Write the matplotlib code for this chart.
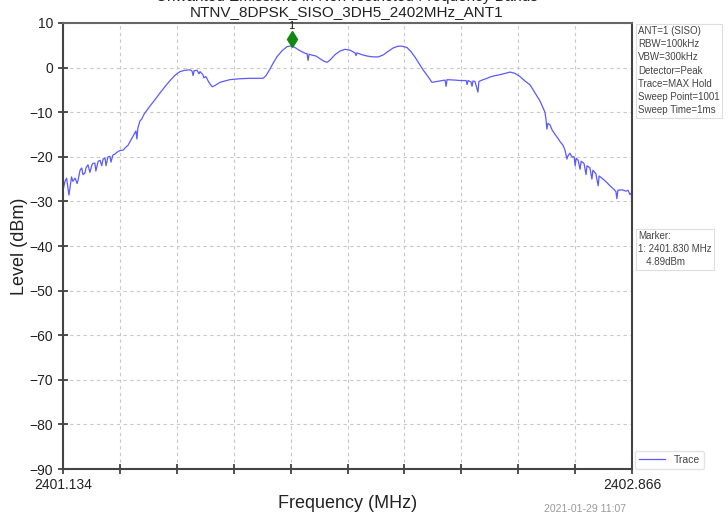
import numpy as np
import matplotlib
matplotlib.use("Agg")
import matplotlib.pyplot as plt
import matplotlib.transforms as mtransforms

plt.rcParams['font.family'] = ['Liberation Sans', 'DejaVu Sans']

# Trace values
freq_mhz = [2401.134, 2401.140, 2401.145, 2401.152, 2401.160, 2401.164, 2401.171, 2401.177,
            2401.180, 2401.186, 2401.191, 2401.195, 2401.201, 2401.204, 2401.210, 2401.216,
            2401.222, 2401.225, 2401.231, 2401.234, 2401.241, 2401.247, 2401.252, 2401.256,
            2401.262, 2401.265, 2401.271, 2401.277, 2401.280, 2401.286, 2401.292, 2401.298,
            2401.307, 2401.317, 2401.323, 2401.332, 2401.344, 2401.350, 2401.356, 2401.359,
            2401.362, 2401.368, 2401.374, 2401.381, 2401.399, 2401.414, 2401.429, 2401.444,
            2401.460, 2401.475, 2401.490, 2401.505, 2401.521, 2401.527, 2401.530, 2401.533,
            2401.542, 2401.548, 2401.551, 2401.560, 2401.563, 2401.569, 2401.578, 2401.588,
            2401.597, 2401.612, 2401.627, 2401.642, 2401.673, 2401.703, 2401.743, 2401.752,
            2401.764, 2401.776, 2401.785, 2401.801, 2401.816, 2401.830, 2401.840, 2401.855,
            2401.871, 2401.877, 2401.880, 2401.883, 2401.892, 2401.904, 2401.916, 2401.929,
            2401.938, 2401.947, 2401.962, 2401.977, 2401.992, 2402.008, 2402.023, 2402.026,
            2402.029, 2402.044, 2402.059, 2402.078, 2402.093, 2402.108, 2402.123, 2402.139,
            2402.154, 2402.166, 2402.181, 2402.193, 2402.206, 2402.218, 2402.230, 2402.245,
            2402.257, 2402.273, 2402.297, 2402.300, 2402.303, 2402.327, 2402.343, 2402.361,
            2402.364, 2402.367, 2402.376, 2402.379, 2402.382, 2402.388, 2402.394, 2402.397,
            2402.400, 2402.413, 2402.425, 2402.434, 2402.449, 2402.464, 2402.479, 2402.495,
            2402.510, 2402.525, 2402.540, 2402.556, 2402.571, 2402.586, 2402.601, 2402.604,
            2402.607, 2402.610, 2402.616, 2402.623, 2402.632, 2402.641, 2402.647, 2402.656,
            2402.662, 2402.668, 2402.671, 2402.677, 2402.683, 2402.690, 2402.693, 2402.696,
            2402.702, 2402.708, 2402.711, 2402.720, 2402.726, 2402.729, 2402.738, 2402.744,
            2402.747, 2402.756, 2402.763, 2402.766, 2402.778, 2402.790, 2402.799, 2402.811,
            2402.817, 2402.820, 2402.823, 2402.836, 2402.848, 2402.854, 2402.860, 2402.866]

level_dbm = [-27.5, -25.5, -24.8, -28.6, -24.5, -25.5, -24.8, -26.0,
             -25.2, -23.0, -22.5, -24.0, -23.6, -22.5, -21.8, -23.5,
             -21.8, -21.5, -21.4, -23.2, -21.0, -20.8, -22.0, -20.5,
             -20.3, -22.0, -20.0, -19.9, -21.2, -19.6, -19.4, -19.0,
             -18.6, -18.5, -18.0, -17.4, -15.8, -15.0, -14.2, -16.0,
             -13.5, -12.0, -11.5, -10.4, -8.6, -7.2, -5.7, -4.3,
             -2.9, -1.7, -0.9, -0.6, -0.5, -0.8, -1.8, -0.7,
             -0.6, -1.4, -0.9, -1.6, -2.3, -2.0, -3.3, -4.3,
             -4.0, -3.3, -3.0, -2.7, -2.5, -2.4, -2.4, -1.8,
             -0.3, 1.3, 2.4, 3.8, 4.7, 4.89, 4.5, 3.8,
             3.2, 3.1, 1.6, 3.0, 2.8, 2.6, 2.0, 1.4,
             1.2, 1.7, 2.9, 3.7, 4.1, 3.9, 3.3, 2.7,
             3.3, 2.9, 2.6, 2.4, 2.4, 2.8, 3.6, 4.4,
             4.8, 4.8, 4.5, 3.6, 2.3, 0.9, -0.5, -2.0,
             -3.3, -3.1, -2.8, -4.2, -2.7, -2.8, -2.9, -2.9,
             -3.8, -2.9, -3.2, -4.2, -3.0, -3.1, -4.7, -5.5,
             -3.1, -2.7, -2.4, -2.1, -1.8, -1.6, -1.3, -1.0,
             -1.3, -2.0, -3.0, -3.9, -5.7, -7.5, -10.0, -11.5,
             -13.8, -12.5, -12.8, -14.0, -15.0, -15.9, -16.6, -17.4,
             -18.5, -20.5, -19.8, -19.2, -20.0, -20.0, -22.0, -20.3,
             -20.8, -22.8, -21.0, -21.5, -24.0, -22.0, -22.5, -25.0,
             -23.0, -23.8, -26.5, -24.3, -25.0, -25.8, -26.5, -27.3,
             -27.8, -29.4, -27.5, -27.4, -27.7, -27.5, -28.5, -27.9]

marker_freq = 2401.830
marker_level = 4.89
f_start, f_stop = 2401.134, 2402.866
y_ticks = [10, 0, -10, -20, -30, -40, -50, -60, -70, -80, -90]

settings = ["ANT=1 (SISO)", "RBW=100kHz", "VBW=300kHz", "Detector=Peak",
            "Trace=MAX Hold", "Sweep Point=1001", "Sweep Time=1ms"]

fig = plt.figure(figsize=(7.28, 5.27), dpi=100)
ax = fig.add_axes([63 / 728, 58 / 527, 569 / 728, 446 / 527])

ax.plot(freq_mhz, level_dbm, color='#5a5aff', linewidth=0.9, label='Trace')

# marker drawn a little above the peak, like the analyser does
trans = mtransforms.offset_copy(ax.transData, fig=fig, x=0, y=7, units='dots')
ax.plot([marker_freq], [marker_level], marker='d', color='#118811', markersize=8,
        transform=trans, linestyle='none')
ax.text(marker_freq, marker_level, '1', transform=mtransforms.offset_copy(
    ax.transData, fig=fig, x=0, y=15, units='dots'),
    ha='center', va='bottom', fontsize=8, color='#222222')

ax.set_xlim(f_start, f_stop)
ax.set_ylim(-90, 10)
xt = np.linspace(f_start, f_stop, 11)
ax.set_xticks(xt)
ax.set_xticklabels(['2401.134'] + [''] * 9 + ['2402.866'], fontsize=10)
ax.set_yticks(y_ticks)
ax.tick_params(axis='y', labelsize=10, direction='inout', length=7, width=1.2, colors='#333333')
ax.tick_params(axis='x', direction='inout', length=7, width=1.2, colors='#333333', pad=3)
for lab in ax.get_yticklabels() + ax.get_xticklabels():
    lab.set_color('#222222')

ax.grid(True, color='#c8c8c8', linestyle=(0, (3, 3)), linewidth=0.8)
for side in ['left', 'bottom', 'right', 'top']:
    ax.spines[side].set_color('#444444')
    ax.spines[side].set_linewidth(1.5)
ax.spines['top'].set_color('#666666')

ax.set_xlabel('Frequency (MHz)', fontsize=13, labelpad=2, color='#222222')
ax.set_ylabel('Level (dBm)', fontsize=13, color='#222222')
ax.yaxis.set_label_coords(-35 / 569, 0.5)

fig.text(347 / 728, 1.0 + 3 / 527, 'Unwanted Emissions in Non-restricted Frequency Bands',
         ha='center', va='center', fontsize=11, color='#222222')
fig.text(347 / 728, 1 - 12 / 527, 'NTNV_8DPSK_SISO_3DH5_2402MHz_ANT1',
         ha='center', va='center', fontsize=11, color='#222222')

box = dict(boxstyle='square,pad=0.25', facecolor='white', edgecolor='#dddddd', linewidth=0.8)
fig.text(638 / 728, 1 - 26 / 527, '\n'.join(settings), ha='left', va='top',
         fontsize=7, color='#444444', linespacing=1.4, bbox=box)
fig.text(638 / 728, 1 - 231 / 527, 'Marker:\n1: 2401.830 MHz\n   4.89dBm', ha='left', va='top',
         fontsize=7, color='#444444', linespacing=1.4, bbox=box)

leg = ax.legend(loc='lower left', bbox_to_anchor=(635 / 728, 58 / 527), bbox_transform=fig.transFigure,
                fontsize=7.5, frameon=True, fancybox=True, handlelength=2.5, borderpad=0.4,
                borderaxespad=0)
leg.get_frame().set_edgecolor('#dddddd')
for t in leg.get_texts():
    t.set_color('#444444')

fig.text(585 / 728, 1 - 509 / 527, '2021-01-29 11:07', ha='center', va='center',
         fontsize=7.5, color='#999999')

fig.savefig('out.png', dpi=100)
